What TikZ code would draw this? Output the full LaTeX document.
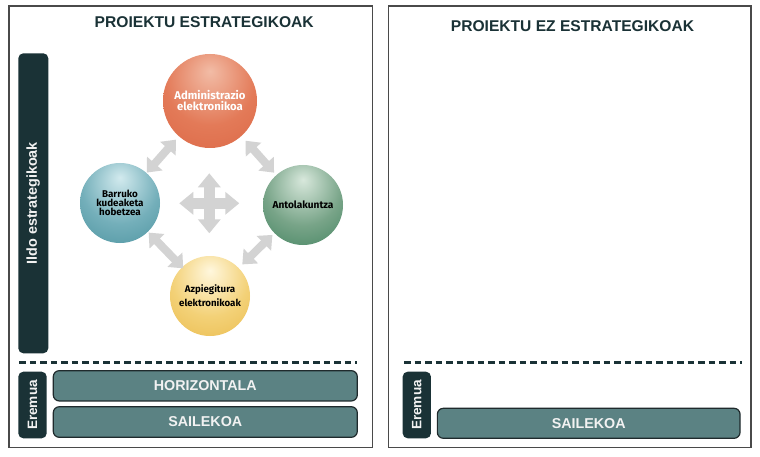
\documentclass[tikz,border=0pt]{standalone}
\usepackage{fontspec}
\setmainfont{Liberation Sans}
\newfontfamily\circfont{Fira Sans}
\usetikzlibrary{arrows.meta,calc}

\definecolor{darkteal}{HTML}{1A3236}
\definecolor{boxteal}{HTML}{5B8283}
\definecolor{boxline}{HTML}{1F2A2C}
\definecolor{framegray}{HTML}{4A4A4A}
\definecolor{arrowgray}{HTML}{D3D3D3}
\definecolor{textwhite}{HTML}{F2F2F2}

\definecolor{redhi}{HTML}{F2BCA6}\definecolor{redmid}{HTML}{E37A58}\definecolor{redlo}{HTML}{D65A38}
\definecolor{tealhi}{HTML}{D2EAEE}\definecolor{tealmid}{HTML}{74AFBA}\definecolor{teallo}{HTML}{2F7F8C}
\definecolor{greenhi}{HTML}{D8E8DC}\definecolor{greenmid}{HTML}{78A488}\definecolor{greenlo}{HTML}{1A6B42}
\definecolor{yelhi}{HTML}{FFF7DD}\definecolor{yelmid}{HTML}{F3D177}\definecolor{yello}{HTML}{E4AB2E}

\pgfdeclareradialshading{sphred}{\pgfpoint{0bp}{16bp}}{color(0bp)=(redhi); color(24bp)=(redmid); color(58bp)=(redlo); color(80bp)=(redlo)}
\pgfdeclareradialshading{sphteal}{\pgfpoint{0bp}{16bp}}{color(0bp)=(tealhi); color(24bp)=(tealmid); color(58bp)=(teallo); color(80bp)=(teallo)}
\pgfdeclareradialshading{sphgreen}{\pgfpoint{0bp}{16bp}}{color(0bp)=(greenhi); color(24bp)=(greenmid); color(58bp)=(greenlo); color(80bp)=(greenlo)}
\pgfdeclareradialshading{sphyel}{\pgfpoint{0bp}{16bp}}{color(0bp)=(yelhi); color(24bp)=(yelmid); color(58bp)=(yello); color(80bp)=(yello)}

\tikzset{
  frame/.style={draw=framegray, line width=1.5pt, fill=white, inner sep=0pt},
  title/.style={text=darkteal, font=\fontsize{15.6}{18}\selectfont\bfseries, inner sep=0pt},
  darkbox/.style={fill=darkteal, rounded corners=5pt, inner sep=0pt, text=textwhite, rotate=90},
  tealbox/.style={fill=boxteal, draw=boxline, line width=1.2pt, rounded corners=6pt, inner sep=0pt, text=textwhite, font=\fontsize{14.3}{16}\selectfont\bfseries},
  sph/.style={circle, shade, inner sep=0pt, align=center, font=\circfont\bfseries},
  dbl/.style={color=arrowgray, line width=8pt, {Triangle[width=20pt,length=12pt]}-{Triangle[width=20pt,length=12pt]}},
  dblc/.style={color=arrowgray, line width=11pt, {Triangle[width=22pt,length=14pt]}-{Triangle[width=22pt,length=14pt]}},
  dashline/.style={draw=darkteal, line width=3pt, dash pattern=on 6.5pt off 4pt},
}

\begin{document}
\begin{tikzpicture}[x=1pt,y=-1pt]
\useasboundingbox (0,0) rectangle (760,457);

% frames
\node[frame, minimum width=363.7pt, minimum height=441.3pt] (frL) at (190.8,226.7) {};
\node[frame, minimum width=362.7pt, minimum height=441.3pt] (frR) at (569.7,226.7) {};

% titles
\node[title] (tL) at (204.2,21.7) {PROIEKTU ESTRATEGIKOAK};
\node[title] (tR) at (572.5,26.5) {PROIEKTU EZ ESTRATEGIKOAK};

% vertical bar
\node[darkbox, minimum width=300pt, minimum height=30pt, font=\fontsize{14.4}{16}\selectfont\bfseries] (ildo) at (33.3,203.3) {Ildo estrategikoak};

% circles
\node[sph, shading=sphred, minimum size=94pt, text=white, font=\circfont\bfseries\fontsize{11.3}{11}\selectfont] (adm) at (210,101) {Administrazio\\elektronikoa};
\node[sph, shading=sphteal, minimum size=80pt, text=black, font=\circfont\bfseries\fontsize{9.8}{8.9}\selectfont] (bar) at (120,203) {Barruko\\kudeaketa\\hobetzea};
\node[sph, shading=sphgreen, minimum size=80pt, text=black, font=\circfont\bfseries\fontsize{10.1}{10}\selectfont] (ant) at (303,205) {Antolakuntza};
\node[sph, shading=sphyel, minimum size=80pt, text=black, font=\circfont\bfseries\fontsize{9.7}{14}\selectfont] (azp) at (210,296) {Azpiegitura\\elektronikoak};

% arrows between circles
\draw[dbl] ($(adm)!51.6pt!(bar)$) -- ($(bar)!40.6pt!(adm)$);
\draw[dbl] ($(adm)!53.3pt!(ant)$) -- ($(ant)!43.4pt!(adm)$);
\draw[dbl] ($(bar)!41.2pt!(azp)$) -- ($(azp)!38.5pt!(bar)$);
\draw[dbl] ($(azp)!45.2pt!(ant)$) -- ($(ant)!42.8pt!(azp)$);

% central cross
\coordinate (cc) at (209.3,203.3);
\coordinate (ccW) at ($(cc)+(-30,0)$);
\coordinate (ccE) at ($(cc)+(30,0)$);
\coordinate (ccN) at ($(cc)+(0,-30)$);
\coordinate (ccS) at ($(cc)+(0,30)$);
\draw[dblc] (ccW) -- (ccE);
\draw[dblc] (ccN) -- (ccS);

% dashed separators
\coordinate (dL1) at (19.3,362.7);
\coordinate (dL2) at (356.7,362.7);
\coordinate (dR1) at (404,362.7);
\coordinate (dR2) at (741.7,362.7);
\draw[dashline] (dL1) -- (dL2);
\draw[dashline] (dR1) -- (dR2);

% bottom left
\node[darkbox, minimum width=66.6pt, minimum height=28.4pt, font=\fontsize{13.6}{15}\selectfont\bfseries] (eremL) at (32.5,405) {Eremua};
\node[tealbox, minimum width=304pt, minimum height=30.3pt] (horiz) at (205.3,385.8) {HORIZONTALA};
\node[tealbox, minimum width=304pt, minimum height=30.6pt] (sailL) at (205.3,422) {SAILEKOA};

% bottom right
\node[darkbox, minimum width=66.6pt, minimum height=28.3pt, font=\fontsize{13.6}{15}\selectfont\bfseries] (eremR) at (416.8,405) {Eremua};
\node[tealbox, minimum width=302.7pt, minimum height=30pt] (sailR) at (588.7,423.3) {SAILEKOA};
\end{tikzpicture}
\end{document}
